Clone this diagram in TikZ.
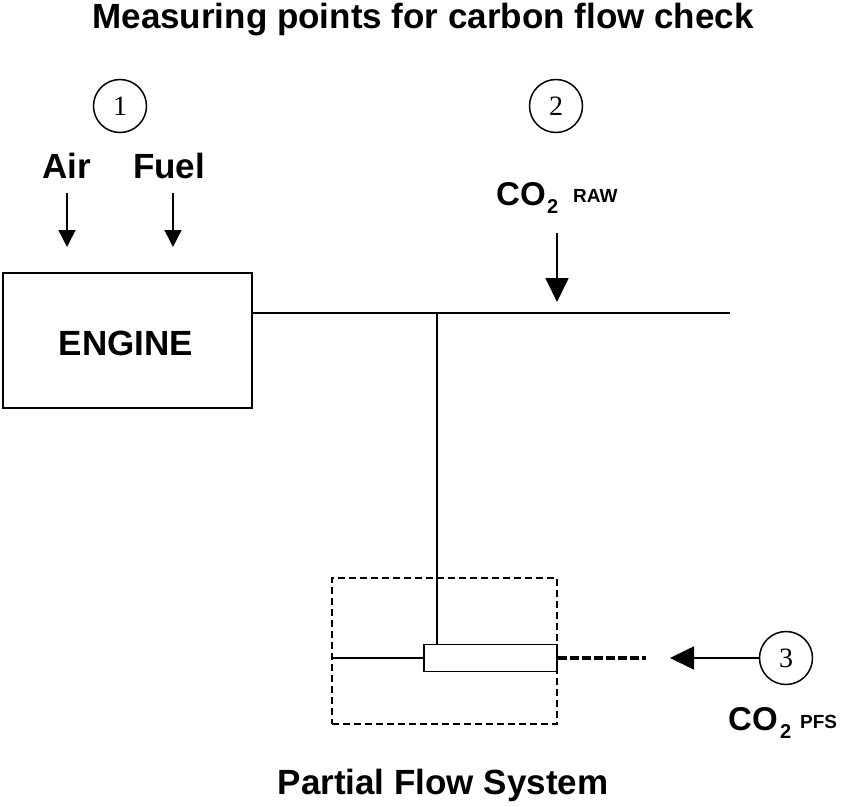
\documentclass[tikz,border=0pt]{standalone}
\usepackage{fontspec}
\setmainfont{Liberation Sans}
\newfontfamily\numfont{Liberation Serif}
\usetikzlibrary{arrows.meta}
\begin{document}
\begin{tikzpicture}[x=1pt,y=-1pt,
  lbl/.style={font=\fontsize{35}{40}\selectfont\bfseries, inner sep=0pt},
  colbl/.style={font=\fontsize{33}{38}\selectfont\bfseries, inner sep=0pt},
  subl/.style={font=\fontsize{20}{24}\selectfont\bfseries, inner sep=0pt},
  small/.style={font=\fontsize{19}{22}\selectfont\bfseries, inner sep=0pt},
  num/.style={draw, circle, minimum size=53pt, inner sep=0pt, line width=1.5pt, font=\fontsize{28}{32}\selectfont\numfont},
  pipe/.style={line width=1.9pt},
  bigarrow/.style={line width=1.8pt, -{Triangle[width=23pt,length=24pt]}},
  smallarrow/.style={line width=1.6pt, -{Triangle[width=17pt,length=17pt]}}
]
\useasboundingbox (0,0) rectangle (843,806);

% title
\node[lbl, anchor=base] (title) at (423,28) {Measuring points for carbon flow check};

% point 1
\node[num] (c1) at (120,106) {1};
\node[lbl, anchor=base] (air) at (67,178) {Air};
\node[lbl, anchor=base] (fuel) at (169,178) {Fuel};
\coordinate (airtop) at (67,193);
\coordinate (airtip) at (67,247);
\coordinate (fueltop) at (173,193);
\coordinate (fueltip) at (173,247);
\draw[smallarrow] (airtop) -- (airtip);
\draw[smallarrow] (fueltop) -- (fueltip);

% engine
\node[draw, pipe, minimum width=249pt, minimum height=135pt, inner sep=0pt] (engine) at (127.5,340.5) {};
\node[lbl, anchor=base] (enginetxt) at (126,355) {ENGINE};

% exhaust line
\coordinate (j) at (437,313);
\coordinate (lineend) at (730,313);
\draw[pipe] (engine.east |- j) -- (lineend);

% point 2
\node[num] (c2) at (556,106) {2};
\node[colbl, anchor=base west] (co2raw) at (496,205) {CO};
\node[subl, anchor=base west] (sub2raw) at (547,213) {2};
\node[small, anchor=base west] (raw) at (573,202) {RAW};
\coordinate (rawtop) at (557,233);
\coordinate (rawtip) at (557,302);
\draw[bigarrow] (rawtop) -- (rawtip);

% partial flow system
\node[draw, line width=1.7pt, dash pattern=on 7pt off 4pt, minimum width=225pt, minimum height=146pt, inner sep=0pt] (pfs) at (444.5,651) {};
\node[draw, pipe, minimum width=133pt, minimum height=27pt, inner sep=0pt] (tube) at (490.5,658) {};
\draw[pipe] (j) -- (tube.north -| j);
\draw[pipe] (pfs.west |- tube.west) -- (tube.west);
\coordinate (dashend) at (646,658);
\draw[line width=3.2pt, dash pattern=on 9pt off 3pt] (tube.east) -- (dashend);

% point 3
\node[num] (c3) at (786,658) {3};
\coordinate (pfstip) at (670,658);
\draw[bigarrow] (c3.west) -- (pfstip);
\node[colbl, anchor=base west] (co2pfs) at (728,730) {CO};
\node[subl, anchor=base west] (sub2pfs) at (780,738) {2};
\node[small, anchor=base west] (pfstxt) at (800,728) {PFS};

\node[lbl, anchor=base] (pfslabel) at (443,794) {Partial Flow System};
\end{tikzpicture}
\end{document}
